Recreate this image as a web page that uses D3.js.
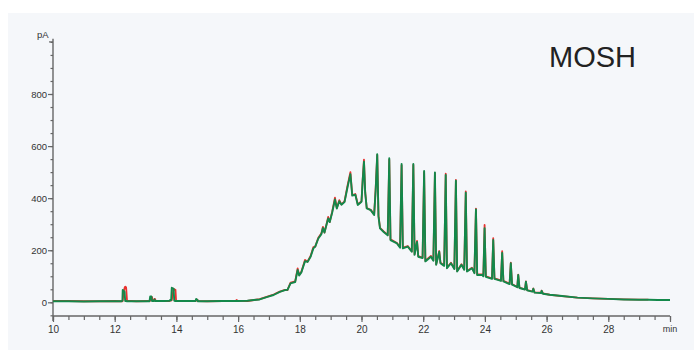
<!DOCTYPE html>
<html>
<head>
<meta charset="utf-8">
<script src="https://cdn.jsdelivr.net/npm/d3@7"></script>
<style>
  body { margin: 0; background: #ffffff; }
  svg { display: block; }
  text { font-family: "Liberation Sans", Arial, sans-serif; fill: #333; }
</style>
</head>
<body>
<figure id="chrom" style="margin:0"></figure>
<script>
// retention time (min)
const times = [
  10.0, 10.5, 11.0, 11.5, 12.0, 12.22, 12.25, 12.26, 12.29, 12.32, 12.34, 12.37, 12.4, 12.7,
  13.1, 13.13, 13.15, 13.19, 13.21, 13.23, 13.27, 13.29, 13.31, 13.33, 13.6, 13.78, 13.8, 13.83,
  13.85, 13.88, 13.91, 13.93, 13.97, 13.99, 14.3, 14.62, 14.64, 14.68, 14.7, 15.0, 15.5, 15.93,
  15.95, 15.98, 16.3, 16.7, 16.95, 17.15, 17.35, 17.52, 17.6, 17.7, 17.85, 17.93, 17.98, 18.05,
  18.17, 18.25, 18.35, 18.44, 18.5, 18.6, 18.7, 18.75, 18.8, 18.87, 18.92, 18.97, 19.05, 19.14,
  19.2, 19.28, 19.35, 19.45, 19.55, 19.64, 19.7, 19.8, 19.88, 20.0, 20.04, 20.08, 20.12, 20.17,
  20.3, 20.41, 20.46, 20.51, 20.55, 20.6, 20.72, 20.85, 20.9, 20.94, 21.15, 21.25, 21.3, 21.34,
  21.5, 21.63, 21.68, 21.72, 21.8, 21.84, 21.98, 22.03, 22.07, 22.25, 22.33, 22.38, 22.42, 22.52,
  22.56, 22.68, 22.73, 22.77, 22.9, 23.01, 23.06, 23.1, 23.24, 23.33, 23.38, 23.42, 23.58, 23.66,
  23.71, 23.75, 23.91, 23.95, 23.99, 24.03, 24.18, 24.23, 24.27, 24.31, 24.47, 24.52, 24.56, 24.6,
  24.76, 24.8, 24.84, 24.88, 25.02, 25.05, 25.08, 25.12, 25.27, 25.3, 25.33, 25.37, 25.5, 25.54,
  25.57, 25.61, 25.8, 25.82, 25.84, 25.88, 26.1, 26.5, 27.0, 27.5, 28.0, 28.5, 29.0, 29.3,
  29.6, 30.0
];
// green trace (pA)
const greenTrace = [
  4, 4, 3, 4, 4, 4, 6, 47, 44, 40, 5, 5, 4, 4,
  4, 5, 22, 22, 5, 5, 5, 11, 5, 5, 5, 6, 9, 8,
  56, 54, 52, 6, 5, 5, 5, 5, 13, 9, 4, 4, 5, 5,
  5, 5, 6, 11, 21, 28, 40, 47, 48, 73, 78, 124, 103, 115,
  158, 155, 175, 207, 214, 245, 262, 285, 268, 300, 322, 308, 345, 395,
  360, 388, 375, 385, 444, 492, 410, 413, 374, 386, 470, 540, 420, 361,
  354, 335, 431, 569, 330, 284, 270, 257, 553, 239, 226, 210, 531, 207,
  214, 194, 531, 182, 232, 175, 170, 504, 157, 175, 160, 499, 144, 194,
  150, 140, 489, 131, 150, 128, 467, 118, 144, 125, 421, 118, 131, 112,
  357, 105, 105, 100, 285, 98, 92, 90, 239, 90, 84, 82, 190, 80,
  72, 70, 150, 68, 60, 58, 105, 55, 50, 49, 79, 46, 42, 41,
  52, 37, 36, 35, 44, 33, 29, 24, 18, 15, 13, 11, 10, 10,
  9, 9
];
// red trace (pA), ends before 30 min
const redTrace = [
  5, 5, 4, 4, 5, 4, 4, 6, 40, 55, 60, 58, 6, 4,
  5, 4, 8, 21, 20, 5, 5, 13, 12, 5, 5, 5, 6, 9,
  8, 30, 52, 50, 48, 6, 5, 5, 6, 10, 5, 4, 5, 5,
  9, 6, 5, 12, 22, 30, 41, 48, 47, 76, 80, 130, 105, 117,
  163, 156, 178, 212, 214, 248, 265, 290, 268, 302, 328, 308, 348, 402,
  362, 392, 376, 388, 450, 500, 412, 416, 376, 388, 475, 548, 424, 362,
  355, 337, 440, 566, 335, 286, 272, 259, 548, 242, 228, 212, 526, 210,
  216, 196, 528, 185, 236, 177, 172, 500, 160, 178, 162, 496, 146, 197,
  152, 142, 494, 133, 152, 130, 470, 120, 146, 127, 426, 120, 133, 114,
  360, 107, 107, 102, 297, 100, 94, 92, 246, 92, 86, 84, 196, 82,
  74, 72, 152, 70, 61, 59, 106, 56, 51, 50, 80, 47, 43, 42,
  53, 38, 37, 36, 45, 34, 29, 24, 18, 15, 13, 11, 10, 10,
  null, null
];
const xTickValues = [10, 12, 14, 16, 18, 20, 22, 24, 26, 28, 30];
const xTickLabels = ['10', '12', '14', '16', '18', '20', '22', '24', '26', '28', ''];
const yTickValues = [0, 200, 400, 600, 800];

const width = 694;
const height = 350;

const svg = d3.select('figure#chrom')
  .append('svg')
  .attr('width', width)
  .attr('height', height);

// light panel behind the plot
svg.append('rect')
  .attr('x', 8).attr('y', 13)
  .attr('width', width - 8).attr('height', height - 13)
  .attr('fill', '#f5f7fa');

const x = d3.scaleLinear().domain([10, 30]).range([53, 670]);
const y = d3.scaleLinear().domain([0, 800]).range([302.3, 94]);
const axisY = 316;

// minor x ticks
svg.append('g')
  .attr('transform', 'translate(0,' + axisY + ')')
  .call(d3.axisBottom(x).tickValues(d3.range(10, 30.01, 0.5)).tickSize(4).tickSizeOuter(0).tickFormat(''))
  .call(g => g.select('.domain').remove());

// major x ticks
const xAxis = svg.append('g')
  .attr('transform', 'translate(0,' + axisY + ')')
  .call(d3.axisBottom(x).tickValues(xTickValues).tickSize(6).tickSizeOuter(0)
    .tickFormat((d, i) => xTickLabels[i]));
xAxis.select('.domain').remove();
xAxis.selectAll('text').attr('y', 10).style('font-size', '10px');

// minor y ticks
svg.append('g')
  .attr('transform', 'translate(53,0)')
  .call(d3.axisLeft(y).tickValues(d3.range(-50, 1001, 50)).tickSize(2.5).tickSizeOuter(0).tickFormat(''))
  .call(g => g.select('.domain').remove());

// major y ticks
const yAxis = svg.append('g')
  .attr('transform', 'translate(53,0)')
  .call(d3.axisLeft(y).tickValues(yTickValues).tickSize(5).tickSizeOuter(0));
yAxis.select('.domain').remove();
yAxis.selectAll('text').attr('x', -6).style('font-size', '9.5px');

svg.selectAll('.tick line').attr('stroke', '#666').attr('stroke-width', 1.2);

// axis lines
svg.append('line')
  .attr('x1', 53).attr('x2', x(30))
  .attr('y1', axisY).attr('y2', axisY)
  .attr('stroke', '#666').attr('stroke-width', 1.4);
svg.append('line')
  .attr('x1', 53).attr('x2', 53)
  .attr('y1', y(1012)).attr('y2', axisY + 5)
  .attr('stroke', '#666').attr('stroke-width', 1.4);
svg.append('line')
  .attr('x1', 49).attr('x2', 53)
  .attr('y1', y(1000)).attr('y2', y(1000))
  .attr('stroke', '#666').attr('stroke-width', 1.2);

// unit labels
svg.append('text')
  .attr('x', 48.5).attr('y', 38)
  .attr('text-anchor', 'end')
  .style('font-size', '9.5px')
  .text('pA');
svg.append('text')
  .attr('x', x(30)).attr('y', 332)
  .attr('text-anchor', 'middle')
  .style('font-size', '9px')
  .text('min');

// traces
const line = (vals) => d3.line()
  .defined((d, i) => vals[i] != null)
  .x((d, i) => x(times[i]))
  .y((d, i) => y(vals[i]))(times);

svg.append('path')
  .attr('d', line(redTrace))
  .attr('fill', 'none')
  .attr('stroke', '#e8322f')
  .attr('stroke-width', 1.8)
  .attr('stroke-linejoin', 'round');

svg.append('path')
  .attr('d', line(greenTrace))
  .attr('fill', 'none')
  .attr('stroke', '#13884a')
  .attr('stroke-width', 1.9)
  .attr('stroke-linejoin', 'round');

// title
svg.append('text')
  .attr('x', 549).attr('y', 67)
  .style('font-size', '29px')
  .style('fill', '#222')
  .text('MOSH');
</script>
</body>
</html>
